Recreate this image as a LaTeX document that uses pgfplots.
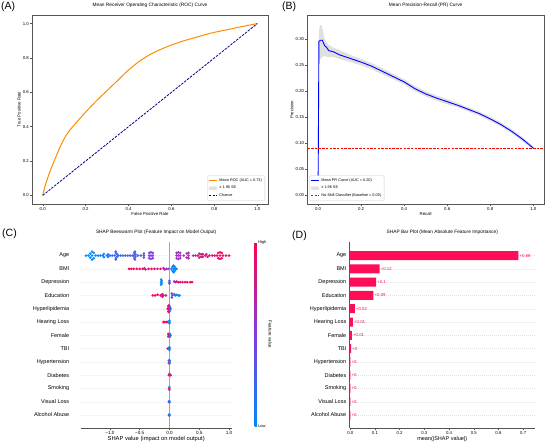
\documentclass[border=0pt]{standalone}
\usepackage{fontspec}
\setmainfont{Liberation Sans}
\usepackage{pgfplots}
\pgfplotsset{compat=1.18}

\definecolor{rocor}{HTML}{FF8C00}
\definecolor{navyc}{HTML}{000080}
\definecolor{shapred}{HTML}{FF0D57}
\definecolor{framec}{HTML}{555555}

\newcommand{\fs}[1]{\fontsize{#1}{#1}\selectfont}

\pgfplotsset{
  mplbase/.style={scale only axis, anchor=south west,
    axis line style={framec, line width=0.6pt},
    tick align=outside, tick pos=left, major tick length=2pt,
    tick style={framec, line width=0.4pt},
    ticklabel style={font=\fs{4.3}, inner sep=1pt},
    label style={font=\fs{4.3}, inner sep=1pt},
    title style={font=\fs{4.8}, inner sep=1.5pt},
    /pgf/number format/assume math mode=true,
    legend style={font=\fs{3.8}, draw=black!20, rounded corners=1pt, inner sep=1pt, row sep=-0.8pt},
    legend cell align=left,
    legend image code/.code={\draw[##1] (0pt,0pt) -- (8pt,0pt);},
  },
  sqlegend/.style={legend image code/.code={\fill[black!12] (0pt,-1.5pt) rectangle (8pt,1.5pt);}},
}

\begin{document}
\begin{tikzpicture}
\path[use as bounding box] (0pt,0pt) rectangle (545pt,443pt);

% ---------------- (A) ROC ----------------
\begin{axis}[mplbase, at={(32pt,239pt)}, width=236pt, height=189pt,
  xmin=-0.05, xmax=1.05, ymin=-0.05, ymax=1.05,
  xtick={0,0.2,0.4,0.6,0.8,1}, ytick={0,0.2,0.4,0.6,0.8,1},
  xticklabel style={/pgf/number format/.cd, fixed, fixed zerofill, precision=1},
  yticklabel style={/pgf/number format/.cd, fixed, fixed zerofill, precision=1},
  title={Mean Receiver Operating Characteristic (ROC) Curve},
  xlabel={False Positive Rate}, ylabel={True Positive Rate},
  legend style={at={(1,0)}, anchor=south east, xshift=-3pt, yshift=3pt}]
\addplot[rocor, line width=1pt, smooth, tension=0.5] coordinates {
(0,0) (0.01,0.05) (0.02,0.09) (0.04,0.16) (0.06,0.22) (0.08,0.28) (0.10,0.33)
(0.12,0.37) (0.15,0.415) (0.20,0.485) (0.25,0.55) (0.30,0.61) (0.35,0.67) (0.40,0.73)
(0.45,0.78) (0.50,0.82) (0.55,0.85) (0.60,0.875) (0.65,0.897) (0.70,0.915)
(0.75,0.933) (0.80,0.949) (0.85,0.962) (0.90,0.975) (0.95,0.988) (1.0,1.0)};
\addlegendentry{Mean ROC (AUC = 0.73)}
\addlegendimage{sqlegend}
\addlegendentry{± 1.96 SE}
\addplot[navyc, line width=0.8pt, dash pattern=on 2.5pt off 1.2pt] coordinates {(0,0) (1,1)};
\addlegendentry{Chance}
\end{axis}

% ---------------- (B) PR ----------------
\begin{axis}[mplbase, at={(307.3pt,239pt)}, width=236.7pt, height=189pt,
  xmin=-0.05, xmax=1.05, ymin=-0.0165, ymax=0.3465,
  xtick={0,0.2,0.4,0.6,0.8,1}, ytick={0,0.05,0.1,0.15,0.2,0.25,0.3},
  xticklabel style={/pgf/number format/.cd, fixed, fixed zerofill, precision=1},
  yticklabel style={/pgf/number format/.cd, fixed, fixed zerofill, precision=2},
  title={Mean Precision-Recall (PR) Curve},
  xlabel={Recall}, ylabel={Precision},
  legend style={at={(0,0)}, anchor=south west, xshift=2pt, yshift=3pt}]
\addplot[fill=black!12, draw=none, forget plot] coordinates {
(0.003,0.30) (0.006,0.322) (0.01,0.327) (0.016,0.327) (0.022,0.318) (0.03,0.302)
(0.04,0.294) (0.05,0.289) (0.07,0.284) (0.1,0.279) (0.15,0.270) (0.2,0.262)
(0.25,0.254) (0.3,0.244) (0.35,0.233) (0.4,0.223) (0.45,0.210) (0.5,0.2)
(0.55,0.192) (0.6,0.185) (0.65,0.177) (0.7,0.169) (0.75,0.161) (0.8,0.151)
(0.85,0.140) (0.9,0.127) (0.95,0.112) (1.0,0.094)
(1.0,0.088) (0.95,0.104) (0.9,0.119) (0.85,0.132) (0.8,0.143) (0.75,0.153)
(0.7,0.161) (0.65,0.169) (0.6,0.175) (0.55,0.182) (0.5,0.190) (0.45,0.200)
(0.4,0.213) (0.35,0.223) (0.3,0.232) (0.25,0.242) (0.2,0.250) (0.15,0.256)
(0.1,0.262) (0.07,0.266) (0.05,0.266) (0.04,0.266) (0.03,0.268) (0.02,0.266)
(0.01,0.262) (0.006,0.258) (0.003,0.27)};
\addplot[blue, line width=0.9pt] coordinates {
(0,0.0) (0.004,0.296) (0.012,0.298) (0.02,0.298) (0.03,0.288) (0.04,0.284)
(0.05,0.278) (0.07,0.276) (0.1,0.270) (0.15,0.263) (0.2,0.256) (0.25,0.248)
(0.3,0.238) (0.35,0.228) (0.4,0.218) (0.45,0.205) (0.5,0.195) (0.55,0.187)
(0.6,0.180) (0.65,0.173) (0.7,0.165) (0.75,0.157) (0.8,0.147) (0.85,0.136)
(0.9,0.123) (0.95,0.108) (1.0,0.091)};
\addlegendentry{Mean PR Curve (AUC = 0.20)}
\addlegendimage{sqlegend}
\addlegendentry{± 1.96 SE}
\addplot[red, line width=0.7pt, dash pattern=on 2.5pt off 1.2pt] coordinates {(-0.05,0.09) (1.05,0.09)};
\addlegendentry{No-Skill Classifier (Baseline = 0.09)}
\end{axis}

% ---------------- (C) Beeswarm ----------------
\begin{axis}[scale only axis, anchor=south west, at={(80.7pt,14.7pt)}, width=151pt, height=186pt,
  xmin=-1.49, xmax=1.045, ymin=-1, ymax=13,
  axis lines*=left, y axis line style={draw=none}, x axis line style={framec, line width=0.5pt},
  tick align=outside, xtick style={framec, line width=0.4pt}, major tick length=2pt,
  ytick style={draw=none},
  xtick={-1,-0.5,0,0.5,1}, xticklabels={−1.0,−0.5,0.0,0.5,1.0},
  xticklabel style={font=\fs{4.6}, inner sep=1pt},
  ytick={0,...,12},
  yticklabels={Alcohol Abuse,Visual Loss,Smoking,Diabetes,Hypertension,TBI,Female,Hearing Loss,Hyperlipidemia,Education,Depression,BMI,Age},
  yticklabel style={font=\fs{5.5}, xshift=-6pt},
  ymajorgrids, major grid style={black!8, dash pattern=on 1pt off 1pt, line width=0.3pt},
  xlabel={SHAP value (impact on model output)}, xlabel style={font=\fs{5.8}, inner sep=1pt, yshift=1pt},
  title={SHAP Beeswarm Plot (Feature Impact on Model Output)}, title style={font=\fs{4.8}, inner sep=1.5pt},
  colormap={shap}{rgb255=(0,138,250) rgb255=(130,60,220) rgb255=(255,0,82)},
  point meta min=0, point meta max=1,
  colorbar,
  colorbar style={at={(parent axis.north east)}, anchor=north west, xshift=14.5pt,
    width=2.2pt, height=184pt, ytick={0,1}, yticklabels={Low,High},
    axis line style={draw=none}, ytick style={draw=none}, major tick length=0pt,
    yticklabel style={font=\fs{4}, inner sep=1pt},
    ylabel={Feature value}, ylabel style={font=\fs{4.5}, rotate=180, inner sep=1pt}},
]
\addplot[black!35, line width=0.5pt, forget plot] coordinates {(0,-1) (0,13)};
\addplot[scatter, only marks, scatter src=explicit, mark=*, mark size=1.25pt,
  scatter/use mapped color={draw=mapped color, fill=mapped color}, line width=0.1pt]
  table[meta=c] {
x y c
-1.40 12 0
-1.36 12 0
-1.33 12.15 0
-1.33 11.85 0
-1.30 12.3 0
-1.30 11.7 0
-1.30 12 0
-1.27 12.2 0
-1.27 11.8 0
-1.24 12 0
-1.20 12 0.05
-1.16 12 0.05
-1.12 12 0.1
-1.10 12.12 0.1
-1.10 11.88 0.1
-1.05 12 0.12
-1.03 12.1 0.12
-1.03 11.9 0.12
-1.00 12 0.15
-0.96 12 0.2
-0.92 12 0.25
-0.90 12.2 0.25
-0.90 11.8 0.25
-0.88 12.1 0.25
-0.88 11.9 0.25
-0.90 12.3 0.25
-0.90 11.7 0.25
-0.86 12 0.25
-0.82 12 0.2
-0.78 12 0.2
-0.74 12 0.2
-0.70 12 0.2
-0.66 12 0.25
-0.62 12 0.3
-0.60 12 0.3
-0.59 12.2 0.3
-0.59 11.8 0.3
-0.58 12.3 0.3
-0.58 11.7 0.3
-0.57 12.1 0.3
-0.57 11.9 0.3
-0.53 12 0.35
-0.48 12 0.35
-0.43 12 0.4
-0.43 12.15 0.4
-0.43 11.85 0.4
-0.34 12.2 0.5
-0.34 11.8 0.5
-0.31 12.25 0.5
-0.31 11.75 0.5
-0.28 12.2 0.5
-0.28 11.8 0.5
-0.31 12 0.5
-0.34 12 0.5
-0.28 12 0.5
0.12 12.2 0.6
0.12 11.8 0.6
0.12 12 0.6
0.15 12.25 0.6
0.15 11.75 0.6
0.15 12 0.6
0.18 12.2 0.6
0.18 11.8 0.6
0.18 12 0.6
0.24 12 0.65
0.29 12.15 0.65
0.29 11.85 0.65
0.32 12.2 0.65
0.32 11.8 0.65
0.32 12 0.65
0.40 12 0.75
0.44 12 0.8
0.48 12 0.8
0.50 12.15 0.8
0.50 11.85 0.8
0.53 12.1 0.8
0.53 11.9 0.8
0.56 12.1 0.85
0.56 11.9 0.85
0.60 12 0.85
0.62 12.1 0.85
0.64 11.9 0.85
0.67 12 0.85
0.72 12 0.9
0.76 12 0.9
0.80 12 0.95
0.82 12.2 0.95
0.82 11.8 0.95
0.85 12.25 0.95
0.85 11.75 0.95
0.85 12 0.95
0.88 12.2 0.95
0.88 11.8 0.95
0.90 12 0.95
0.95 12 0.95
1.00 12 0.95
-0.68 11 1
-0.64 11 1
-0.60 11 1
-0.55 11 0.95
-0.50 11 0.95
-0.45 11 0.9
-0.42 11.05 0.8
-0.40 10.95 0.8
-0.35 11 0.9
-0.30 11 0.95
-0.25 11 0.85
-0.20 11 0.9
-0.15 11 0.9
-0.10 11.05 0.7
-0.08 10.95 0.7
-0.05 11 0.6
-0.02 11 0.6
0.03 11 0.1
0.05 11.15 0.05
0.05 10.85 0.05
0.07 11.25 0
0.07 10.75 0
0.07 11 0
0.09 11.15 0
0.09 10.85 0
0.10 11 0
0.12 11 0
-0.14 10.2 0
-0.14 9.8 0
-0.14 10 0
-0.13 10.1 0
-0.13 9.9 0
0.00 10.1 0.4
0.00 9.9 0.4
0.00 10 0.3
0.08 10.05 0.6
0.10 10 0.7
0.12 10.05 0.8
0.15 10 0.85
0.18 10 0.9
0.22 10 0.95
0.26 10 0.95
0.30 10 1
0.35 10 1
0.38 10 1
-0.28 9 1
-0.24 9 1
-0.20 9.05 0.95
-0.15 9 0.9
-0.12 9.1 0.85
-0.12 8.9 0.85
-0.10 9 0.8
-0.06 9 0.75
0.04 9.15 0.5
0.04 8.85 0.5
0.05 9 0.45
0.08 9.1 0.1
0.10 9 0.05
0.12 9.05 0
0.15 9 0
0.17 9 0
-0.03 8 1
-0.02 8.2 1
-0.02 7.8 1
-0.01 8.25 0.9
-0.01 7.75 0.9
0.00 8.2 0.6
0.00 7.8 0.6
0.00 8 0.5
0.01 8.1 0.2
0.01 7.9 0.2
0.02 8 0.1
-0.02 8 1
-0.10 7 1
-0.08 7 1
-0.05 7 1
-0.03 7 0.9
0.00 7.1 0
0.00 6.9 0
0.00 7 0
-0.02 6.1 1
-0.02 5.9 1
-0.01 6 0.9
0.01 6.1 0.1
0.01 5.9 0.1
0.02 6 0
-0.03 5 1
-0.01 5 0.9
0.00 5.1 0
0.00 4.9 0
0.00 5 0.1
-0.01 4.1 1
-0.01 3.9 1
0.00 4 0.5
0.005 4.1 0
0.005 3.9 0
-0.01 3 1
0.00 3.1 0.3
0.01 3 0
0.02 3 0.9
-0.005 2 1
0.00 2.1 0
0.00 1.9 0.5
-0.01 1 1
0.00 1.05 0
0.00 0.95 0.2
-0.01 0 1
0.00 0.05 0
0.00 -0.05 0.1
};
\end{axis}

% ---------------- (D) Bar ----------------
\begin{axis}[scale only axis, anchor=south west, at={(349.5pt,14.7pt)}, width=185.5pt, height=186pt,
  xmin=-0.003, xmax=0.748, ymin=-1, ymax=13,
  axis lines*=left, axis line style={framec, line width=0.5pt},
  tick align=outside, xtick style={framec, line width=0.4pt}, major tick length=2pt,
  ytick style={draw=none},
  xtick={0,0.1,0.2,0.3,0.4,0.5,0.6,0.7},
  xticklabel style={font=\fs{4.3}, inner sep=1pt, /pgf/number format/.cd, fixed, fixed zerofill, precision=1},
  /pgf/number format/assume math mode=true,
  ytick={0,...,12},
  yticklabels={Alcohol Abuse,Visual Loss,Smoking,Diabetes,Hypertension,TBI,Female,Hearing Loss,Hyperlipidemia,Education,Depression,BMI,Age},
  yticklabel style={font=\fs{5.5}, inner sep=1pt},
  ymajorgrids, major grid style={black!12, dash pattern=on 1pt off 1pt, line width=0.3pt},
  xlabel={mean(|SHAP value|)}, xlabel style={font=\fs{5.5}, inner sep=1pt},
  title={SHAP Bar Plot (Mean Absolute Feature Importance)}, title style={font=\fs{4.8}, inner sep=1.5pt},
]
\addplot[xbar, bar width=9pt, fill=shapred, draw=none,
  nodes near coords, point meta=explicit symbolic,
  nodes near coords style={font=\fs{4.3}, text=shapred, anchor=west, inner sep=1pt}]
  coordinates {
(0.681,12) [+0.68]
(0.119,11) [+0.12]
(0.105,10) [+0.1]
(0.094,9) [+0.09]
(0.019,8) [+0.02]
(0.011,7) [+0.01]
(0.007,6) [+0.01]
(0.004,5) [+0]
(0.001,4) [+0]
(0.001,3) [+0]
(0.001,2) [+0]
(0.001,1) [+0]
(0.001,0) [+0]
};
\end{axis}

\node[anchor=north west, font=\fs{10.5}, inner sep=0pt] at (1pt,441pt) {(A)};
\node[anchor=north west, font=\fs{10.5}, inner sep=0pt] at (282pt,441pt) {(B)};
\node[anchor=north west, font=\fs{10.5}, inner sep=0pt] at (2pt,214pt) {(C)};
\node[anchor=north west, font=\fs{10.5}, inner sep=0pt] at (292pt,212pt) {(D)};
\end{tikzpicture}
\end{document}
